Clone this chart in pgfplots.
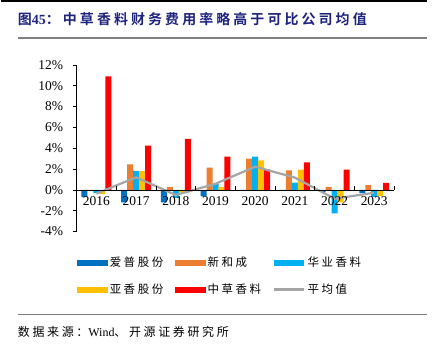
\documentclass[border=0pt]{standalone}
\usepackage{fontspec}
\setmainfont{Liberation Serif}
\newfontfamily\cjk{Noto Sans CJK SC}[LetterSpace=22, BoldFont={* Bold}]
\usepackage{pgfplots}
\pgfplotsset{compat=1.18}
\definecolor{cA}{HTML}{0070C0}
\definecolor{cB}{HTML}{ED7D31}
\definecolor{cC}{HTML}{00B0F0}
\definecolor{cD}{HTML}{FFC000}
\definecolor{cE}{HTML}{FF0000}
\definecolor{cG}{HTML}{A5A5A5}
\definecolor{navy}{RGB}{30,35,125}
\begin{document}
\begin{tikzpicture}
\path (0,0) rectangle (439bp,351bp);
\draw[black,line width=1.5bp] (0bp,350bp) -- (427bp,350bp);
\node[anchor=west, text=navy, inner sep=0pt] at (17bp,332bp)
  {\fontsize{14bp}{16bp}\selectfont{\cjk\bfseries 图}{\bfseries 45}{\cjk\bfseries ：中草香料财务费用率略高于可比公司均值}};
\draw[gray,line width=1.5bp] (17bp,313bp) -- (427bp,313bp);
\draw[gray,line width=1.2bp] (17bp,36bp) -- (427bp,36bp);
\node[anchor=west, inner sep=0pt] at (17bp,19bp)
  {\fontsize{12bp}{14bp}\selectfont{\cjk 数据来源：}Wind{\cjk 、开源证券研究所}};
\begin{axis}[
  at={(76bp,119bp)}, anchor=south west,
  scale only axis, width=318bp, height=167bp,
  xmin=-0.5, xmax=7.5, ymin=-4, ymax=12,
  axis on top,
  axis x line=middle, axis y line=left,
  axis line style={-, black, line width=0.8bp},
  xtick={0,...,7},
  xticklabels={2016,2017,2018,2019,2020,2021,2022,2023},
  major x tick style={draw=none},
  minor xtick={0.5,1.5,...,7.5},
  minor x tick style={black, line width=0.6bp},
  minor tick length=4bp,
  xtick align=inside,
  ytick={-4,-2,...,12},
  yticklabels={-4\%,-2\%,0\%,2\%,4\%,6\%,8\%,10\%,12\%},
  ytick align=outside,
  major tick length=4bp,
  y tick style={black, line width=0.6bp},
  tick label style={font=\fontsize{13.5bp}{15bp}\selectfont},
  xticklabel style={yshift=-3bp},
  yticklabel style={xshift=-6bp},
  clip=false,
  legend columns=3,
  legend cell align=left,
  legend style={at={(rel axis cs:0.0,-0.14)}, anchor=north west, draw=none, fill=none,
    inner sep=0pt, column sep=0pt, row sep=12bp,
    font=\fontsize{11.5bp}{13bp}\selectfont\cjk,
    nodes={text height=9bp, text depth=2bp}},
]
\addplot[ybar, bar width=6bp, bar shift=-12bp, fill=cA, draw=none,
  legend image code/.code={\fill[cA] (0bp,-3bp) rectangle (31bp,3bp);}]
  coordinates {(0,-0.7) (1,-1.2) (2,-1.2) (3,-0.63) (4,-0.1) (5,0.0) (6,-0.2) (7,-0.3)};
\addlegendentry{\makebox[63bp][l]{爱普股份}}
\addplot[ybar, bar width=6bp, bar shift=-6bp, fill=cB, draw=none,
  legend image code/.code={\fill[cB] (0bp,-3bp) rectangle (31bp,3bp);}]
  coordinates {(0,0.0) (1,2.45) (2,0.3) (3,2.14) (4,3.0) (5,1.88) (6,0.3) (7,0.45)};
\addlegendentry{\makebox[63bp][l]{新和成}}
\addplot[ybar, bar width=6bp, bar shift=0bp, fill=cC, draw=none,
  legend image code/.code={\fill[cC] (0bp,-3bp) rectangle (31bp,3bp);}]
  coordinates {(0,-0.3) (1,1.8) (2,-0.76) (3,0.55) (4,3.2) (5,0.7) (6,-2.26) (7,-0.67)};
\addlegendentry{\makebox[63bp][l]{华业香料}}
\addplot[ybar, bar width=6bp, bar shift=6bp, fill=cD, draw=none,
  legend image code/.code={\fill[cD] (0bp,-3bp) rectangle (31bp,3bp);}]
  coordinates {(0,-0.4) (1,1.8) (2,-0.25) (3,0.3) (4,2.84) (5,1.95) (6,-1.2) (7,-0.57)};
\addlegendentry{\makebox[63bp][l]{亚香股份}}
\addplot[ybar, bar width=6bp, bar shift=12bp, fill=cE, draw=none,
  legend image code/.code={\fill[cE] (0bp,-3bp) rectangle (31bp,3bp);}]
  coordinates {(0,10.9) (1,4.24) (2,4.9) (3,3.19) (4,1.98) (5,2.65) (6,1.95) (7,0.67)};
\addlegendentry{\makebox[63bp][l]{中草香料}}
\addplot[sharp plot, mark=none, color=cG, line width=2.2bp,
  legend image code/.code={\draw[cG, line width=2.2bp] (0bp,0bp) -- (31bp,0bp);}]
  coordinates {(0,-0.35) (1,1.21) (2,-0.49) (3,0.59) (4,2.23) (5,1.18) (6,-0.84) (7,-0.27)};
\addlegendentry{\makebox[63bp][l]{平均值}}
\end{axis}
\end{tikzpicture}
\end{document}
